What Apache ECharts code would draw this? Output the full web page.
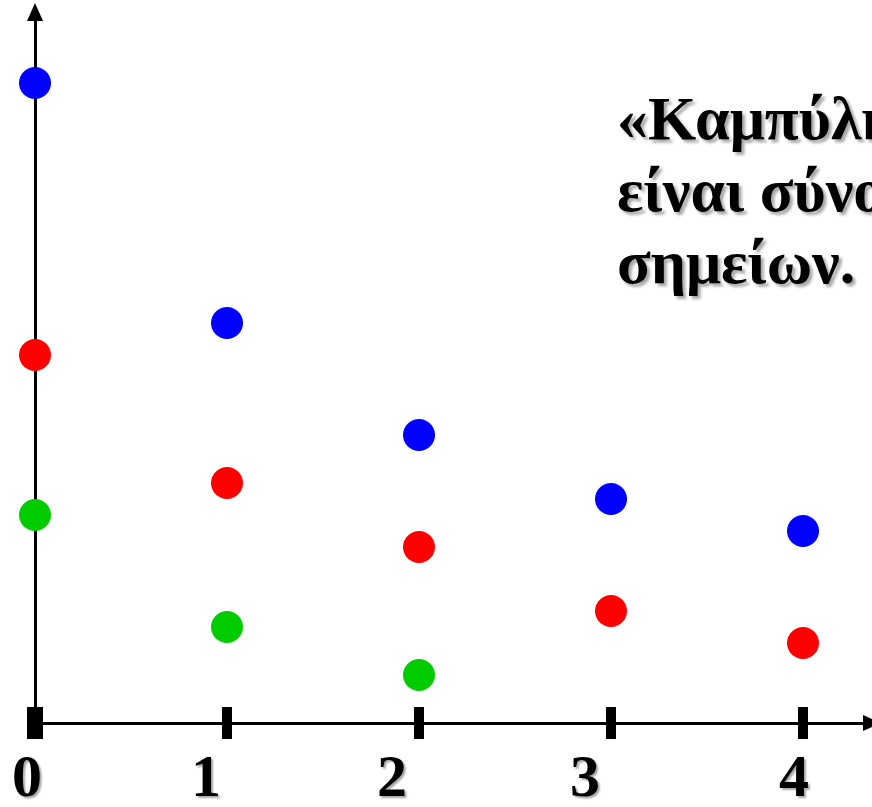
<!DOCTYPE html>
<html>
<head>
<meta charset="utf-8">
<script src="https://cdn.jsdelivr.net/npm/echarts@6/dist/echarts.min.js"></script>
<style>
html,body{margin:0;padding:0;background:#fff;overflow:hidden;}
#main{width:872px;height:807px;}
</style>
</head>
<body>
<div id="main"></div>
<script>
var xValues = [0, 1, 2, 3, 4];
var xTickLabels = ['0', '1', '2', '3', '4'];
var blueY = [20, 12.5, 9, 7, 6];
var redY = [11.5, 7.5, 5.5, 3.5, 2.5];
var greenY = [6.5, 3, 1.5];
var noteText = '«Καμπύλη αδιαφορίας»\nείναι σύνολο\nσημείων.';

function pairs(xs, ys) { return ys.map(function (y, i) { return [xs[i], y]; }); }

var labelShift = [16, 42, 54, 52, 18];
var rich = {};
labelShift.forEach(function (s, i) {
  rich['p' + i] = {
    fontFamily: 'Liberation Serif', fontWeight: 'bold', fontSize: 60, color: '#000',
    padding: [0, s, 0, 0],
    textShadowColor: 'rgba(0,0,0,0.35)', textShadowOffsetX: 2, textShadowOffsetY: 2, textShadowBlur: 2
  };
});

var chart = echarts.init(document.getElementById('main'), null, { renderer: 'canvas' });
var XMAX = (872 - 35) / 192;
var option = {
  animation: false,
  backgroundColor: '#fff',
  title: {
    text: noteText,
    left: 612, top: 82,
    textStyle: {
      fontFamily: 'Liberation Serif', fontWeight: 'bold', fontSize: 62, lineHeight: 72, color: '#000',
      textShadowColor: 'rgba(0,0,0,0.35)', textShadowOffsetX: 3, textShadowOffsetY: 3, textShadowBlur: 3
    }
  },
  grid: { left: 35, right: 0, top: 12, height: 711, containLabel: false, outerBoundsMode: 'none' },
  xAxis: [
    {
      type: 'value', min: 0, max: XMAX, interval: 1,
      splitLine: { show: false },
      axisLine: { lineStyle: { color: '#000', width: 3 }, symbol: ['none', 'triangle'], symbolSize: [16, 18] },
      axisTick: { show: false },
      axisLabel: {
        customValues: xValues,
        margin: 27,
        formatter: function (v) {
          var i = xValues.indexOf(v);
          if (i < 0) return '';
          return '{p' + i + '|' + xTickLabels[i] + '}';
        },
        rich: rich
      }
    },
    {
      type: 'value', min: 0, max: XMAX, interval: 1, position: 'bottom', offset: -16,
      splitLine: { show: false },
      axisLine: { show: false },
      axisTick: { show: true, customValues: [1, 2, 3, 4], length: 32, inside: false, lineStyle: { color: '#000', width: 10 } },
      axisLabel: { show: false }
    },
    {
      type: 'value', min: 0, max: XMAX, interval: 1, position: 'bottom', offset: -16,
      splitLine: { show: false },
      axisLine: { show: false },
      axisTick: { show: true, customValues: [0], length: 32, inside: false, lineStyle: { color: '#000', width: 16 } },
      axisLabel: { show: false }
    }
  ],
  yAxis: {
    type: 'value', min: 0, max: 711 / 32,
    splitLine: { show: false },
    axisLine: { lineStyle: { color: '#000', width: 3 }, symbol: ['none', 'triangle'], symbolSize: [16, 18] },
    axisTick: { show: false },
    axisLabel: { show: false }
  },
  series: [
    { type: 'scatter', symbolSize: 32, itemStyle: { color: '#0000ff', opacity: 1 }, data: pairs(xValues, blueY), z: 5 },
    { type: 'scatter', symbolSize: 32, itemStyle: { color: '#ff0000', opacity: 1 }, data: pairs(xValues, redY), z: 5 },
    { type: 'scatter', symbolSize: 32, itemStyle: { color: '#00cc00', opacity: 1 }, data: pairs(xValues, greenY), z: 5 }
  ]
};
chart.setOption(option);
</script>
</body>
</html>
